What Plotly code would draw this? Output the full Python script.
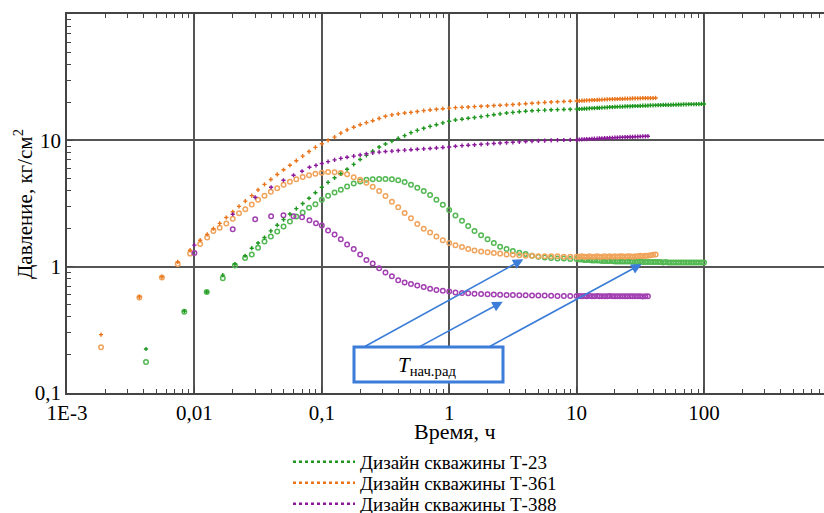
import plotly.graph_objects as go

# ---------------- data ----------------
T_EARLY_361 = [0.00185, 0.0037, 0.00556, 0.0074, 0.00925, 0.0111]
T_EARLY_23 = [0.00417, 0.00833, 0.0125, 0.0167, 0.0208, 0.025]
T_EARLY_388 = [0.01, 0.02, 0.03, 0.04, 0.05, 0.06, 0.07, 0.08, 0.09]
T_GRID = [0.0126, 0.0141, 0.0158, 0.0178, 0.0200, 0.0224, 0.0251, 0.0282, 0.0316, 0.0355,
          0.0398, 0.0447, 0.0501, 0.0562, 0.0631, 0.0708, 0.0794, 0.0891, 0.100, 0.112,
          0.126, 0.141, 0.158, 0.178, 0.200, 0.224, 0.251, 0.282, 0.316, 0.355,
          0.398, 0.447, 0.501, 0.562, 0.631, 0.708, 0.794, 0.891, 1.00, 1.12,
          1.26, 1.41, 1.58, 1.78, 2.00, 2.24, 2.51, 2.82, 3.16, 3.55,
          3.98, 4.47, 5.01, 5.62, 6.31, 7.08, 7.94, 8.91, 10.0]
T_DENSE = [10.5, 11.0, 11.5, 12.0, 12.6, 13.2, 13.8, 14.5, 15.1, 15.8,
           16.6, 17.4, 18.2, 19.1, 20.0, 20.9, 21.9, 22.9, 24.0, 25.1,
           26.3, 27.5, 28.8, 30.2, 31.6, 33.1, 34.7, 36.3, 38.0, 39.8,
           41.7, 43.7, 45.7, 47.9, 50.1, 52.5, 55.0, 57.5, 60.3, 63.1,
           66.1, 69.2, 72.4, 75.9, 79.4, 83.2, 87.1, 91.2, 95.5, 100.0]

# Well T-361 (orange): pressure and derivative, kgf/cm2
P_361 = [0.29, 0.577, 0.83, 1.09, 1.35, 1.62,
         1.80, 2.0, 2.2, 2.45, 2.72, 3.0, 3.3, 3.65, 4.05, 4.48, 4.9, 5.37, 5.85, 6.35, 6.9, 7.5, 8.15, 8.8, 9.4,
         10.0, 10.6, 11.4, 12.1, 12.7, 13.3, 13.8, 14.3, 14.9, 15.5, 15.9, 16.2, 16.45, 16.65, 16.9, 17.2, 17.4, 17.6, 17.8, 18.0,
         18.15, 18.25, 18.35, 18.5, 18.6, 18.7, 18.85, 18.95, 19.1, 19.2, 19.35, 19.5, 19.65, 19.8, 19.95, 20.1, 20.2, 20.3, 20.4, 20.5,
         20.55, 20.6, 20.65, 20.7, 20.75, 20.8, 20.85, 20.9, 20.95, 21.0, 21.05, 21.1, 21.15, 21.2, 21.2, 21.25,
         21.3, 21.3, 21.35, 21.4, 21.4, 21.45, 21.5, 21.5, 21.5, 21.55, 21.55, 21.6, 21.6, 21.6, 21.65]
D_361 = [0.23, 0.57, 0.82, 1.05, 1.27, 1.51,
         1.70, 1.92, 2.03, 2.2, 2.4, 2.65, 2.85, 3.1, 3.38, 3.65, 3.92, 4.18, 4.45, 4.7, 4.93, 5.13, 5.3, 5.45, 5.55,
         5.62, 5.6, 5.52, 5.38, 5.1, 4.88, 4.62, 4.3, 3.98, 3.62, 3.27, 2.95, 2.66, 2.42, 2.18, 2.0, 1.86, 1.73, 1.62, 1.54,
         1.48, 1.43, 1.38, 1.345, 1.32, 1.30, 1.285, 1.27, 1.25, 1.24, 1.23, 1.22, 1.22, 1.21, 1.21, 1.21, 1.21, 1.2, 1.2, 1.2,
         1.2, 1.21, 1.2, 1.2, 1.21, 1.2, 1.2, 1.21, 1.2, 1.2, 1.21, 1.2, 1.21, 1.2, 1.21, 1.2,
         1.21, 1.21, 1.2, 1.21, 1.21, 1.2, 1.21, 1.21, 1.22, 1.21, 1.22, 1.22, 1.23, 1.24, 1.25]

# Well T-23 (green)
P_23 = [0.223, 0.445, 0.63, 0.857, 1.05, 1.22,
        1.40, 1.54, 1.70, 1.92, 2.13, 2.36, 2.61, 2.88, 3.16, 3.48, 3.85, 4.25,
        4.65, 5.05, 5.45, 5.9, 6.45, 7.05, 7.6, 8.2, 8.85, 9.35, 9.85, 10.35, 10.9, 11.5, 12.0, 12.45, 12.9, 13.3, 13.75, 14.15,
        14.5, 14.7, 14.95, 15.15, 15.4, 15.7, 15.95, 16.2, 16.45, 16.65, 16.85, 17.0, 17.15, 17.25, 17.35, 17.45, 17.5, 17.55, 17.6, 17.65,
        17.7, 17.75, 17.8, 17.85, 17.9, 17.95, 18.0, 18.05, 18.1, 18.15,
        18.2, 18.25, 18.3, 18.35, 18.4, 18.45, 18.5, 18.5, 18.55, 18.6,
        18.6, 18.65, 18.7, 18.7, 18.75, 18.8, 18.8, 18.85, 18.9, 18.9,
        18.95, 19.0, 19.0, 19.05, 19.05, 19.1, 19.1, 19.15, 19.15, 19.2,
        19.2, 19.25, 19.25, 19.3, 19.3, 19.3, 19.35, 19.35, 19.4, 19.4]
D_23 = [0.176, 0.44, 0.63, 0.81, 1.02, 1.17,
        1.25, 1.41, 1.58, 1.73, 1.90, 2.08, 2.28, 2.5, 2.68, 2.92, 3.12, 3.38,
        3.64, 3.86, 4.07, 4.31, 4.55, 4.73, 4.88, 4.93, 4.95, 4.95, 4.93, 4.84, 4.67, 4.46, 4.22, 3.98, 3.7, 3.39, 3.09, 2.81,
        2.54, 2.31, 2.1, 1.92, 1.77, 1.65, 1.54, 1.44, 1.38, 1.33, 1.29, 1.26, 1.22, 1.2, 1.18, 1.17, 1.16, 1.16, 1.15, 1.15,
        1.14, 1.14, 1.13, 1.13, 1.13, 1.12, 1.12, 1.12, 1.12, 1.11,
        1.11, 1.11, 1.11, 1.11, 1.1, 1.1, 1.1, 1.1, 1.1, 1.1,
        1.1, 1.1, 1.09, 1.09, 1.1, 1.09, 1.09, 1.09, 1.09, 1.09,
        1.09, 1.09, 1.09, 1.08, 1.09, 1.08, 1.08, 1.08, 1.08, 1.08,
        1.08, 1.08, 1.08, 1.08, 1.08, 1.08, 1.08, 1.08, 1.08, 1.08]

# Well T-388 (purple)
P_388 = [1.48, 2.60, 3.54, 4.25, 4.83, 5.29, 5.69, 6.12, 6.34,
         6.55, 6.78, 7.0, 7.2, 7.35, 7.5, 7.66, 7.82, 7.96, 8.06, 8.16, 8.22, 8.3, 8.37, 8.43, 8.5, 8.56, 8.62, 8.7, 8.78, 8.85,
         8.98, 9.08, 9.15, 9.22, 9.3, 9.38, 9.45, 9.52, 9.6, 9.65, 9.72, 9.8, 9.85, 9.9, 9.95, 10.0, 10.03, 10.06, 10.08, 10.1,
         10.15, 10.18, 10.2, 10.22, 10.25, 10.28, 10.3, 10.32, 10.35, 10.38,
         10.4, 10.42, 10.45, 10.47, 10.5, 10.52, 10.55, 10.57, 10.6, 10.62,
         10.64, 10.66, 10.68, 10.7, 10.72, 10.74, 10.76, 10.78]
D_388 = [1.28, 1.98, 2.37, 2.51, 2.55, 2.51, 2.46, 2.33, 2.21,
         2.12, 1.93, 1.8, 1.65, 1.5, 1.38, 1.25, 1.13, 1.06, 0.97, 0.9, 0.84, 0.78, 0.75, 0.73, 0.71, 0.69, 0.67, 0.655, 0.645, 0.635,
         0.625, 0.62, 0.615, 0.61, 0.608, 0.605, 0.602, 0.6, 0.598, 0.596, 0.595, 0.593, 0.592, 0.59, 0.59, 0.588, 0.587, 0.586, 0.585, 0.585,
         0.585, 0.584, 0.586, 0.583, 0.585, 0.584, 0.583, 0.585, 0.584, 0.583,
         0.584, 0.583, 0.585, 0.582, 0.584, 0.583, 0.582, 0.584, 0.583, 0.582,
         0.583, 0.582, 0.584, 0.582, 0.583, 0.581, 0.583, 0.582]

T_361 = T_EARLY_361 + T_GRID + T_DENSE[:31]
T_23 = T_EARLY_23 + T_GRID[7:] + T_DENSE
T_388 = T_EARLY_388 + T_GRID[18:] + T_DENSE[:28]

LEGEND_NAMES = ["Дизайн скважины Т-23", "Дизайн скважины Т-361", "Дизайн скважины Т-388"]
X_TICKS = [0.001, 0.01, 0.1, 1, 10, 100]
X_TICKTEXT = ["1E-3", "0,01", "0,1", "1", "10", "100"]
Y_TICKS = [0.1, 1, 10]
Y_TICKTEXT = ["0,1", "1", "10"]
X_TITLE = "Время, ч"
Y_TITLE = "Давление, кг/см<sup>2</sup>"
BOX_TEXT = "<i>T</i><sub>нач.рад</sub>"

# ---------------- styling ----------------
FONT = "Liberation Serif"
C_GREEN_P, C_GREEN_D = "#1f961f", "#52b852"
C_OR_P, C_OR_D = "#e8741c", "#f0a35a"
C_PU_P, C_PU_D = "#8a1a9a", "#a240b2"
BLUE = "#3b7dd8"
FIG_W, FIG_H = 824, 513
PLOT_L, PLOT_T, PLOT_W, PLOT_H = 67, 14, 757, 379


def px_x(px):
    return (px - PLOT_L) / PLOT_W


def px_y(py):
    return (PLOT_T + PLOT_H - py) / PLOT_H


def pair(t, v):
    n = min(len(t), len(v))
    return t[:n], v[:n]


fig = go.Figure()

series = [
    (T_23, D_23, C_GREEN_D, "d"), (T_361, D_361, C_OR_D, "d"), (T_388, D_388, C_PU_D, "d"),
    (T_23, P_23, C_GREEN_P, "p"), (T_361, P_361, C_OR_P, "p"), (T_388, P_388, C_PU_P, "p"),
]
for t, v, c, kind in series:
    x, y = pair(t, v)
    if kind == "d":
        marker = dict(symbol="circle-open", size=4.5, color=c, line=dict(width=1.5, color=c))
    else:
        marker = dict(symbol="cross", size=3.5, color=c, line=dict(width=0))
    fig.add_trace(go.Scatter(x=x, y=y, mode="markers", marker=marker,
                             showlegend=False, hoverinfo="x+y"))

# legend entries: one legend box per entry, stacked as in the reference
legend_rows = [462, 483, 504]
legend_ids = ["legend", "legend2", "legend3"]
for name, c, lid in zip(LEGEND_NAMES, [C_GREEN_P, C_OR_P, C_PU_P], legend_ids):
    fig.add_trace(go.Scatter(x=[None], y=[None], mode="lines", name=name, legend=lid,
                             line=dict(color=c, width=2.5, dash="dot")))

legend_layout = {}
for lid, row in zip(legend_ids, legend_rows):
    legend_layout[lid] = dict(
        xref="container", yref="container",
        x=288 / FIG_W, xanchor="left", y=1 - row / FIG_H, yanchor="middle",
        font=dict(family=FONT, size=19, color="black"), itemwidth=62,
        bgcolor="rgba(0,0,0,0)", borderwidth=0,
    )

minor_vals_x = [m * 10 ** e for e in range(-3, 3) for m in range(2, 10)]
minor_vals_y = [m * 10 ** e for e in range(-1, 2) for m in range(2, 10)]

axis_common = dict(
    type="log", showline=True, linecolor="#444", linewidth=1.5,
    ticks="inside", ticklen=6, tickwidth=1, tickcolor="#444",
    showgrid=True, gridcolor="#555", gridwidth=1.5, zeroline=False, automargin=False,
    tickfont=dict(family=FONT, size=21, color="black"),
)

fig.update_layout(
    width=FIG_W, height=FIG_H,
    margin=dict(l=PLOT_L, r=FIG_W - PLOT_L - PLOT_W, t=PLOT_T, b=FIG_H - PLOT_T - PLOT_H,
                autoexpand=False),
    paper_bgcolor="white", plot_bgcolor="white",
    font=dict(family=FONT, size=20, color="black"),
    xaxis=dict(**axis_common, range=[-3, 2.942], tickmode="array",
               tickvals=X_TICKS, ticktext=X_TICKTEXT, mirror="ticks",
               minor=dict(tickmode="array", tickvals=minor_vals_x, ticks="inside",
                          ticklen=4, tickcolor="#444", showgrid=False)),
    yaxis=dict(**axis_common, range=[-1, 2], tickmode="array",
               tickvals=Y_TICKS, ticktext=Y_TICKTEXT, mirror=False,
               minor=dict(tickmode="array", tickvals=minor_vals_y, ticks="inside",
                          ticklen=4, tickcolor="#444", showgrid=False)),
    showlegend=True,
    **legend_layout,
)

# axis titles
fig.add_annotation(xref="paper", yref="paper", x=px_x(455), y=px_y(431),
                   xanchor="center", yanchor="middle",
                   text=X_TITLE, showarrow=False, font=dict(family=FONT, size=22))
fig.add_annotation(xref="paper", yref="paper", x=px_x(23), y=px_y(204),
                   xanchor="center", yanchor="middle",
                   text=Y_TITLE, textangle=-90, showarrow=False, font=dict(family=FONT, size=21))

# annotation box "T нач.рад"
fig.add_shape(type="rect", xref="paper", yref="paper",
              x0=px_x(354), x1=px_x(503), y0=px_y(382), y1=px_y(347),
              line=dict(color=BLUE, width=3), fillcolor="white", layer="above")
fig.add_annotation(xref="paper", yref="paper", x=px_x(427), y=px_y(366),
                   xanchor="center", yanchor="middle",
                   text=BOX_TEXT, showarrow=False,
                   font=dict(family=FONT, size=21, color="black"))

for ax_x, ax_y, dx, dy in [(0.582, 0.0586, -160, 88), (0.42, -0.277, -85, 46), (1.511, 0.021, -153, 83)]:
    fig.add_annotation(x=ax_x, y=ax_y, xref="x", yref="y", text="", showarrow=True,
                       ax=dx, ay=dy, arrowhead=2, arrowsize=1.3, arrowwidth=1.6,
                       arrowcolor=BLUE, standoff=0)

fig.write_html("out.html", config={"displayModeBar": False},
               post_script="document.body.style.margin='0px';")
